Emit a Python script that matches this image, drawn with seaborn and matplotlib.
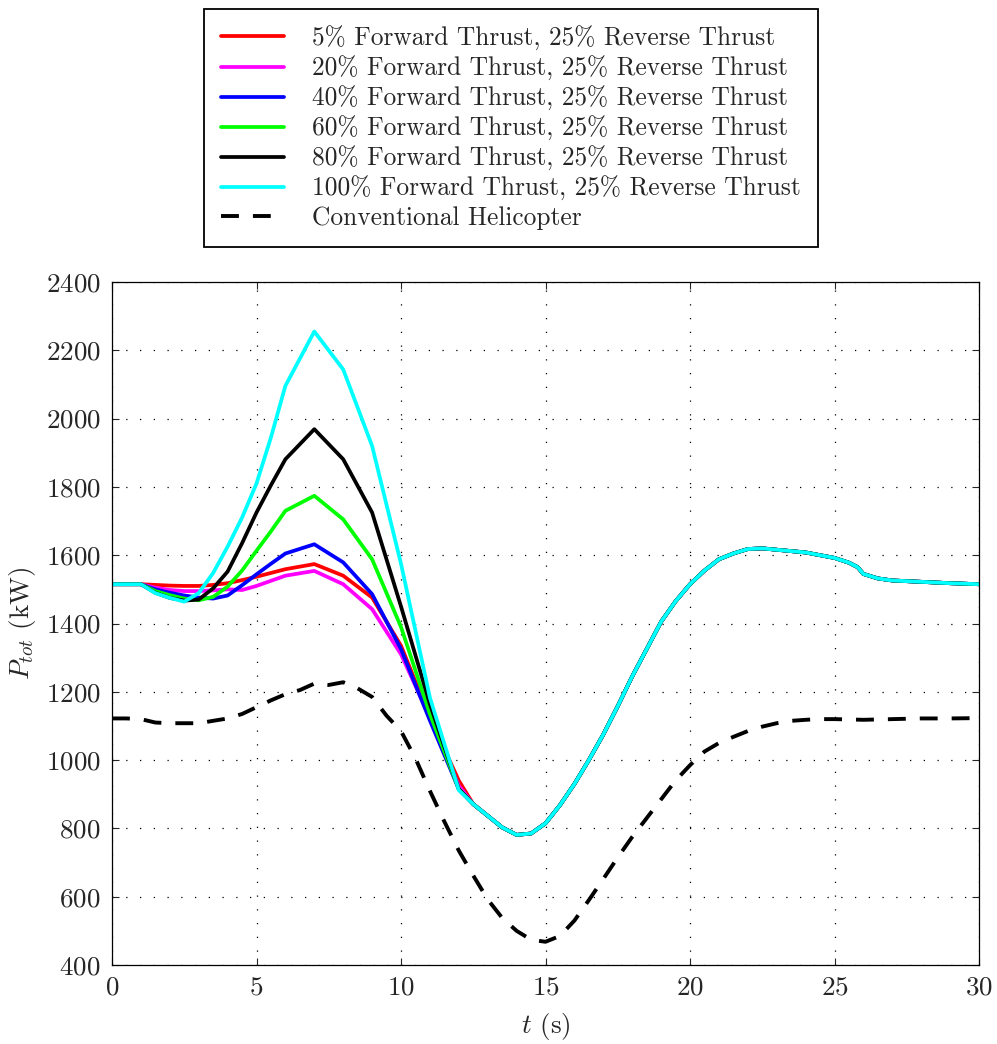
import numpy as np
import pandas as pd
import matplotlib
matplotlib.use("Agg")
import matplotlib.pyplot as plt
import seaborn as sns

# ---------------- data ----------------
t_early = [0, 1, 1.5, 2, 2.5, 3, 3.5, 4, 4.5, 5, 5.5, 6, 7, 8, 9, 10, 11, 12]
red     = [1515, 1515, 1513, 1511, 1510, 1510, 1513, 1518, 1527, 1537, 1548, 1559, 1574, 1540, 1476, 1335, 1125, 940]
magenta = [1515, 1515, 1505, 1498, 1495, 1495, 1497, 1500, 1498, 1510, 1525, 1540, 1554, 1515, 1442, 1310, 1125, 925]
blue    = [1515, 1515, 1500, 1490, 1482, 1476, 1473, 1482, 1512, 1544, 1575, 1605, 1632, 1579, 1486, 1325, 1116, 915]
green   = [1515, 1515, 1495, 1483, 1473, 1468, 1478, 1508, 1555, 1613, 1670, 1730, 1774, 1705, 1588, 1390, 1135, 915]
black   = [1515, 1515, 1490, 1475, 1467, 1470, 1503, 1552, 1635, 1725, 1805, 1881, 1969, 1881, 1725, 1450, 1164, 915]
cyan    = [1515, 1515, 1489, 1475, 1464, 1489, 1548, 1625, 1710, 1810, 1945, 2096, 2255, 2144, 1920, 1575, 1183, 912]

t_tail = [12.5, 13, 13.5, 14, 14.5, 15, 15.5, 16, 16.5, 17, 17.5, 18, 18.5, 19, 19.5, 20,
          20.5, 21, 21.5, 22, 22.5, 23, 23.5, 24, 24.5, 25, 25.5, 25.8, 26, 26.5, 27, 28, 29, 30]
tail    = [871, 837, 803, 781, 785, 815, 868, 930, 1000, 1075, 1158, 1245, 1325, 1405, 1465, 1515,
           1555, 1588, 1605, 1618, 1620, 1616, 1612, 1608, 1600, 1592, 1578, 1565, 1545, 1532, 1526, 1522, 1518, 1515]

t_conv = [0, 0.5, 1, 1.5, 2, 2.5, 3, 3.5, 4, 4.5, 5, 5.5, 6, 6.5, 7, 7.5, 8, 8.5, 9, 9.5, 10,
          10.5, 11, 11.5, 12, 12.5, 13, 13.5, 14, 14.5, 15, 15.5, 16, 16.5, 17, 17.5, 18, 18.5,
          19, 19.5, 20, 20.5, 21, 21.5, 22, 22.5, 23, 23.5, 24, 24.5, 25, 26, 27, 28, 29, 30]
conv   = [1122, 1122, 1120, 1110, 1108, 1108, 1108, 1115, 1122, 1135, 1155, 1175, 1193, 1205, 1224, 1220, 1228, 1210, 1185, 1130, 1085,
          1005, 910, 820, 735, 662, 592, 538, 500, 474, 468, 485, 530, 590, 652, 715, 775, 830,
          885, 940, 985, 1025, 1050, 1068, 1085, 1098, 1108, 1115, 1118, 1120, 1120, 1118, 1120, 1122, 1122, 1123]

labels = ["5% Forward Thrust, 25% Reverse Thrust",
          "20% Forward Thrust, 25% Reverse Thrust",
          "40% Forward Thrust, 25% Reverse Thrust",
          "60% Forward Thrust, 25% Reverse Thrust",
          "80% Forward Thrust, 25% Reverse Thrust",
          "100% Forward Thrust, 25% Reverse Thrust",
          "Conventional Helicopter"]
colors = ["#ff0000", "#ff00ff", "#0000ff", "#00ff00", "#000000", "#00ffff"]
x_ticks = [0, 5, 10, 15, 20, 25, 30]
y_ticks = [400, 600, 800, 1000, 1200, 1400, 1600, 1800, 2000, 2200, 2400]

# ---------------- style ----------------
sns.set_style("ticks")
plt.rcParams["font.family"] = ["cmr10", "DejaVu Serif"]
plt.rcParams["mathtext.fontset"] = "cm"
plt.rcParams["axes.formatter.use_mathtext"] = True
plt.rcParams["axes.unicode_minus"] = False

fig = plt.figure(figsize=(9.97, 10.44), dpi=100)
ax = fig.add_axes([112/997, 1 - 965/1044, (979-112)/997, (965-282)/1044])

series = [red, magenta, blue, green, black, cyan]
for vals, col, lab in zip(series, colors, labels[:6]):
    tt = list(t_early) + list(t_tail)
    vv = list(vals) + list(tail)
    df = pd.DataFrame({"t": tt, "P": vv})
    sns.lineplot(data=df, x="t", y="P", ax=ax, color=col, lw=2.7, label=lab,
                 sort=False, estimator=None)

dfc = pd.DataFrame({"t": t_conv, "P": conv})
sns.lineplot(data=dfc, x="t", y="P", ax=ax, color="black", lw=2.8,
             label=labels[6], sort=False, estimator=None)
ax.lines[-1].set_dashes((4.6, 3.6))

ax.set_xlim(0, 30)
ax.set_ylim(400, 2400)
ax.set_xticks(x_ticks)
ax.set_yticks(y_ticks)
ax.grid(True, color="black", linestyle=(0, (1, 10)), linewidth=0.9)
ax.tick_params(direction="in", length=5, width=0.8, top=True, right=True,
               labelsize=19.5, pad=8)
for s in ax.spines.values():
    s.set_visible(True)
    s.set_linewidth(0.9)
    s.set_color("black")

ax.set_xlabel(r"$t$ (s)", fontsize=19.5, labelpad=8)
ax.set_ylabel(r"$P_{tot}$ (kW)", fontsize=19.5, labelpad=6)

leg = ax.legend(loc="upper center", bbox_to_anchor=(0.5125, 0.9914),
                bbox_transform=fig.transFigure, frameon=True, fancybox=False,
                framealpha=1, edgecolor="black", fontsize=18.3, handlelength=2.5,
                labelspacing=0.2, borderpad=0.65, handletextpad=1.1,
                borderaxespad=0)
leg.get_frame().set_linewidth(1.3)

fig.savefig("out.png", dpi=100)
